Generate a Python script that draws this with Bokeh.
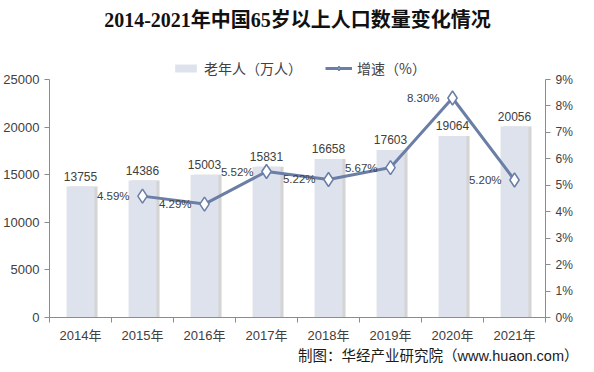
from bokeh.plotting import figure
from bokeh.models import (Range1d, LinearAxis, FixedTicker, ColumnDataSource, LabelSet,
                          Legend, LegendItem, Title, Label)
from bokeh.core.properties import value
from bokeh.embed import file_html
from bokeh.resources import INLINE

# ---- data ----
years = ["2014年", "2015年", "2016年", "2017年", "2018年", "2019年", "2020年", "2021年"]
elderly = [13755, 14386, 15003, 15831, 16658, 17603, 19064, 20056]
growth_years = ["2015年", "2016年", "2017年", "2018年", "2019年", "2020年", "2021年"]
growth = [4.59, 4.29, 5.52, 5.22, 5.67, 8.30, 5.20]
left_ticks = [0, 5000, 10000, 15000, 20000, 25000]
right_ticks = [0, 1, 2, 3, 4, 5, 6, 7, 8, 9]
title_text = "2014-2021年中国65岁以上人口数量变化情况"
bar_name = "老年人（万人）"
line_name = "增速（%）"
source_text = "制图：华经产业研究院（www.huaon.com）"

LAT = "'Liberation Sans', 'Noto Sans CJK SC'"
TXT = "#404040"
AX = "#8C8C8C"
BAR = "#DEE2EC"
LINE = "#6A7EA6"

centers = [i + 0.5 for i in range(len(years))]
bounds = [float(i) for i in range(len(years) + 1)]
gx = [centers[years.index(y)] for y in growth_years]

# layout: the frame also holds the title and legend area above the plot
FW = 496
PLOT_H = 238          # pixel height of the 0..max value area
TOP_H = 79            # title + legend area inside the frame
FH = PLOT_H + TOP_H
ML, MR = 42, 40
ymax_l, ymax_r = left_ticks[-1], right_ticks[-1]

p = figure(output_backend="svg", toolbar_location=None,
           x_range=Range1d(0, len(years)),
           y_range=Range1d(0, ymax_l * FH / PLOT_H),
           frame_width=FW, frame_height=FH,
           min_border_left=ML, min_border_right=MR,
           min_border_top=0, min_border_bottom=0)
p.extra_y_ranges = {"pct": Range1d(0, ymax_r * FH / PLOT_H)}
p.outline_line_color = None
p.xgrid.visible = False
p.ygrid.visible = False
p.background_fill_color = "white"
p.border_fill_color = "white"

# bars (with a soft shadow)
bsrc = ColumnDataSource(dict(x=centers, top=elderly, lbl=[str(v) for v in elderly],
                             xs=[c + 0.05 for c in centers]))
p.vbar(x="xs", top="top", width=0.45, bottom=0, source=bsrc,
       fill_color="#B8B8B8", fill_alpha=0.6, line_color=None)
bars = p.vbar(x="x", top="top", width=0.45, bottom=0, source=bsrc,
              fill_color=BAR, line_color=None)

# line
lsrc = ColumnDataSource(dict(x=gx, y=growth, lbl=["%.2f%%" % v for v in growth]))
ln = p.line(x="x", y="y", source=lsrc, y_range_name="pct", line_color=LINE, line_width=3)
mk = p.scatter(x="x", y="y", source=lsrc, y_range_name="pct", marker="diamond", size=14,
               fill_color="white", line_color=LINE, line_width=1.5)

# data labels
p.add_layout(LabelSet(x="x", y="top", text="lbl", source=bsrc, y_offset=6,
                      text_align="center", text_baseline="bottom",
                      text_font=value(LAT), text_font_size=value("12px"), text_color=TXT))
p.add_layout(LabelSet(x="x", y="y", text="lbl", source=lsrc, y_range_name="pct",
                      x_offset=-13, text_align="right", text_baseline="middle",
                      text_font=value(LAT), text_font_size=value("11.5px"), text_color=TXT))

# axes
xa = p.xaxis[0]
xa.ticker = FixedTicker(ticks=centers, minor_ticks=bounds)
xa.major_label_overrides = {c: y for c, y in zip(centers, years)}
xa.major_tick_line_color = None
xa.minor_tick_line_color = AX
xa.minor_tick_in = 0
xa.minor_tick_out = 5
xa.axis_line_color = AX
xa.major_label_text_font = LAT
xa.major_label_text_font_size = "13px"
xa.major_label_text_color = TXT
xa.major_label_standoff = 4

ya = p.yaxis[0]
ya.ticker = FixedTicker(ticks=left_ticks)
ya.bounds = (0, ymax_l)
ya.axis_line_color = AX
ya.major_tick_line_color = AX
ya.major_tick_in = 0
ya.major_tick_out = 5
ya.minor_tick_line_color = None
ya.major_label_text_font = LAT
ya.major_label_text_font_size = "13px"
ya.major_label_text_color = TXT
ya.major_label_standoff = 5

ra = LinearAxis(y_range_name="pct", ticker=FixedTicker(ticks=right_ticks), bounds=(0, ymax_r))
ra.major_label_overrides = {t: "%d%%" % t for t in right_ticks}
ra.axis_line_color = AX
ra.major_tick_line_color = AX
ra.major_tick_in = 0
ra.major_tick_out = 5
ra.minor_tick_line_color = None
ra.major_label_text_font = LAT
ra.major_label_text_font_size = "12px"
ra.major_label_text_color = TXT
ra.major_label_standoff = 5
p.add_layout(ra, "right")

# legend (screen units, relative to frame bottom-left)
leg = Legend(items=[LegendItem(label=bar_name, renderers=[bars]),
                    LegendItem(label=line_name, renderers=[ln, mk])],
             orientation="horizontal", location=(123, FH - 78),
             label_text_font="'Noto Sans CJK SC'", label_text_font_size="14px",
             label_text_color=TXT, glyph_width=27, glyph_height=10, label_height=16,
             spacing=23, padding=0, margin=0, border_line_color=None,
             background_fill_alpha=0, label_standoff=5)
p.add_layout(leg)

# title (inside the frame's top band)
p.add_layout(Label(x=FW / 2, y=FH - 19, x_units="screen", y_units="screen",
                   text=title_text, text_align="center", text_baseline="middle",
                   text_font="'Liberation Serif', 'Noto Sans CJK SC'", text_font_style="bold",
                   text_font_size="20px", text_color="#111111"))

# source note
src = Title(text=source_text, align="right", offset=-33, standoff=0,
            text_font=LAT, text_font_size="14.5px", text_font_style="normal",
            text_color="#1A1A1A")
p.add_layout(src, "below")

open("out.html", "w").write(file_html(p, INLINE))
